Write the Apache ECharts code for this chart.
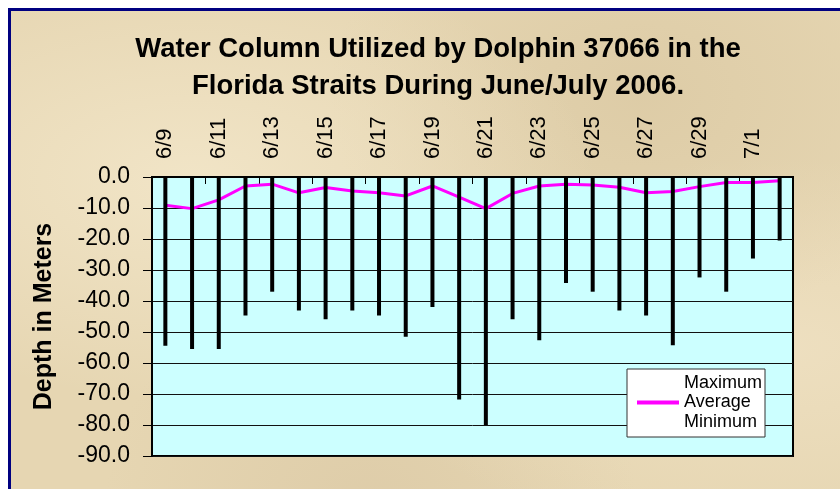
<!DOCTYPE html>
<html>
<head>
<meta charset="utf-8">
<script src="https://cdn.jsdelivr.net/npm/echarts@6/dist/echarts.min.js"></script>
<style>
  html, body { margin: 0; padding: 0; background: #fff; }
  #paper {
    position: absolute; left: 8px; top: 8px; width: 900px; height: 560px;
    border: 3px solid #000080;
    background-color: #e6d6b2;
    background-image:
      radial-gradient(ellipse at 20% 30%, rgba(250,240,215,0.55), rgba(250,240,215,0) 40%),
      radial-gradient(ellipse at 70% 15%, rgba(205,185,145,0.35), rgba(205,185,145,0) 35%),
      radial-gradient(ellipse at 85% 60%, rgba(245,232,205,0.5), rgba(245,232,205,0) 40%),
      radial-gradient(ellipse at 40% 90%, rgba(210,190,155,0.4), rgba(210,190,155,0) 35%);
  }
  #chart { position: absolute; left: 0; top: 0; width: 840px; height: 489px; }
</style>
</head>
<body>
<div id="paper"></div>
<div id="chart"></div>
<script>
// dates, every day 6/9 .. 7/2
var days = ['6/9','6/10','6/11','6/12','6/13','6/14','6/15','6/16','6/17','6/18','6/19','6/20',
            '6/21','6/22','6/23','6/24','6/25','6/26','6/27','6/28','6/29','6/30','7/1','7/2'];
// depths in meters (negative = below surface)
var maxDepth = [0,0,0,0,0,0,0,0,0,0,0,0,0,0,0,0,0,0,0,0,0,0,0,0];
var avgDepth = [-9.1,-10.2,-7.4,-2.9,-2.3,-5.1,-3.4,-4.5,-5.1,-6.1,-2.9,-6.5,
                -10.2,-5.3,-2.9,-2.3,-2.6,-3.3,-5.1,-4.7,-3.1,-1.8,-1.8,-1.2];
var minDepth = [-54.4,-55.5,-55.5,-44.7,-37.0,-43.1,-45.9,-43.1,-44.7,-51.5,-41.9,-71.8,
                -80.0,-45.9,-52.7,-34.2,-37.0,-43.1,-44.7,-54.3,-32.4,-37.0,-26.3,-20.5];

var font = '"Liberation Sans", Arial, sans-serif';

var chart = echarts.init(document.getElementById('chart'));

var hiLo = days.map(function (d, i) { return [i, maxDepth[i], minDepth[i]]; });

var option = {
  backgroundColor: 'transparent',
  animation: false,
  title: {
    text: 'Water Column Utilized by Dolphin 37066 in the\nFlorida Straits During June/July 2006.',
    left: 433,
    top: 26,
    textAlign: 'center',
    textStyle: {
      fontFamily: font,
      fontSize: 27.5,
      fontWeight: 'bold',
      color: '#000',
      lineHeight: 37
    }
  },
  legend: {
    orient: 'vertical',
    left: 627,
    top: 369,
    backgroundColor: '#fff',
    borderColor: '#333',
    borderWidth: 1,
    borderRadius: 0,
    padding: [5, 3, 6, 8],
    itemWidth: 42,
    itemHeight: 18,
    itemGap: 1.5,
    textStyle: { fontFamily: font, fontSize: 18, color: '#000' },
    data: [
      { name: 'Maximum', lineStyle: { opacity: 0 }, itemStyle: { opacity: 0 } },
      { name: 'Average', lineStyle: { width: 4, color: '#ff00ff' }, itemStyle: { opacity: 0 } },
      { name: 'Minimum', lineStyle: { opacity: 0 }, itemStyle: { opacity: 0 } }
    ]
  },
  grid: {
    left: 152,
    top: 177,
    right: 47,
    bottom: 33,
    show: true,
    backgroundColor: '#ccffff',
    borderColor: '#000',
    borderWidth: 2
  },
  xAxis: {
    type: 'category',
    position: 'top',
    data: days,
    boundaryGap: true,
    axisLine: { lineStyle: { color: '#000', width: 2 } },
    axisTick: { show: true, inside: true, length: 7, interval: 1, lineStyle: { color: '#000', width: 1 } },
    axisLabel: {
      interval: 1,
      rotate: 90,
      margin: 18,
      fontFamily: font,
      fontSize: 22,
      color: '#000'
    },
    splitLine: { show: false }
  },
  yAxis: {
    type: 'value',
    min: -90,
    max: 0,
    interval: 10,
    name: 'Depth in Meters',
    nameLocation: 'middle',
    nameGap: 95,
    nameTextStyle: { fontFamily: font, fontSize: 25, fontWeight: 'bold', color: '#000' },
    axisLine: { show: true, lineStyle: { color: '#000', width: 2 } },
    axisTick: { show: true, length: 9, lineStyle: { color: '#000', width: 1 } },
    axisLabel: {
      margin: 22,
      fontFamily: font,
      fontSize: 23,
      color: '#000',
      formatter: function (v) { return v.toFixed(1); }
    },
    splitLine: { show: true, lineStyle: { color: '#111', width: 1 } }
  },
  series: [
    {
      name: 'Maximum',
      type: 'line',
      data: maxDepth,
      symbol: 'none',
      silent: true,
      lineStyle: { opacity: 0 },
      z: 1
    },
    {
      name: 'Average',
      type: 'line',
      data: avgDepth,
      symbol: 'none',
      lineStyle: { color: '#ff00ff', width: 3 },
      itemStyle: { color: '#ff00ff' },
      z: 2
    },
    {
      name: 'Minimum',
      type: 'line',
      data: minDepth,
      symbol: 'none',
      silent: true,
      lineStyle: { opacity: 0 },
      z: 1
    },
    {
      name: 'HighLow',
      type: 'custom',
      data: hiLo,
      encode: { x: 0, y: [1, 2] },
      z: 3,
      renderItem: function (params, api) {
        var top = api.coord([api.value(0), api.value(1)]);
        var bot = api.coord([api.value(0), api.value(2)]);
        return {
          type: 'line',
          shape: { x1: top[0], y1: top[1], x2: bot[0], y2: bot[1] },
          style: { stroke: '#000', lineWidth: 4 }
        };
      }
    }
  ]
};

chart.setOption(option);
</script>
</body>
</html>
